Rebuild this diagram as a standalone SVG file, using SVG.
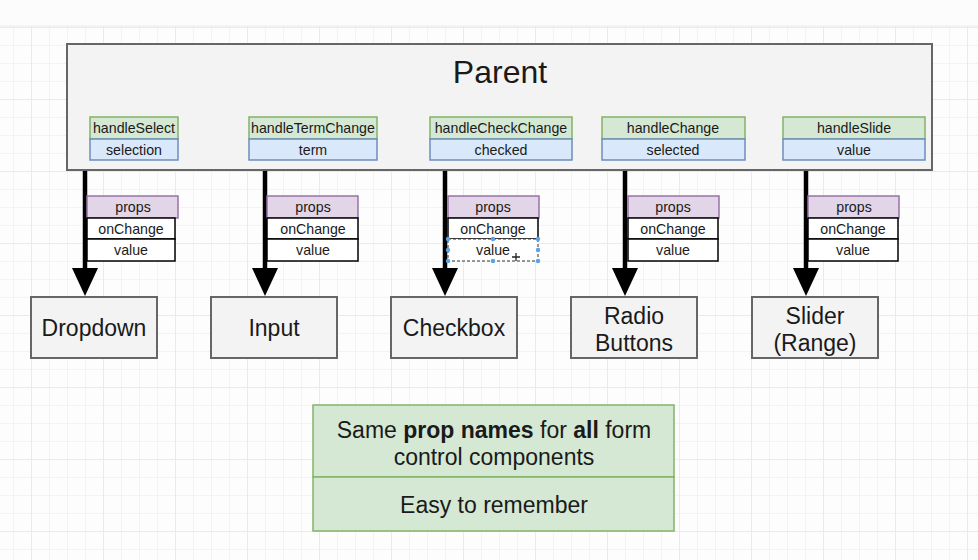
<svg xmlns="http://www.w3.org/2000/svg" width="978" height="560" viewBox="0 0 978 560">
<defs>
<pattern id="minor" x="13" y="9" width="18" height="18" patternUnits="userSpaceOnUse">
<path d="M0 0.5H18M0.5 0V18" fill="none" stroke="#f3f3f3" stroke-width="1"/>
</pattern>
<pattern id="major" x="31" y="27" width="72" height="72" patternUnits="userSpaceOnUse">
<path d="M0 0.5H72M0.5 0V72" fill="none" stroke="#eaeaea" stroke-width="1"/>
</pattern>
<style>
text{font-family:"Liberation Sans",Arial,sans-serif;fill:#1a1a1a;text-anchor:middle}
.frame{fill:#f3f3f3;stroke:#666;stroke-width:2}
.g{fill:#d5e8d4;stroke:#82b366;stroke-width:1.5}
.b{fill:#dae8fc;stroke:#6c8ebf;stroke-width:1.5}
.p{fill:#e1d5e7;stroke:#9673a6;stroke-width:1.5}
.w{fill:#fff;stroke:#000;stroke-width:1.5}
.s{font-size:14.2px}
.l{font-size:23px}
.conn{stroke:#000;stroke-width:4.5;fill:none}
.head{fill:#000}
.dot{fill:#5aa3e8}
</style>
</defs>
<rect width="978" height="560" fill="#fdfdfd"/>
<rect width="978" height="560" fill="url(#minor)"/>
<rect width="978" height="560" fill="url(#major)"/>
<rect x="0" y="0" width="978" height="26" fill="#fcfcfc"/>
<line x1="0" y1="26" x2="978" y2="26" stroke="#ececec"/>

<g id="connectors">
<line class="conn" x1="85" y1="170" x2="85" y2="272"/>
<path class="head" d="M72 268L98 268L85 296Z"/>
<line class="conn" x1="265" y1="170" x2="265" y2="272"/>
<path class="head" d="M252 268L278 268L265 296Z"/>
<line class="conn" x1="445" y1="170" x2="445" y2="272"/>
<path class="head" d="M432 268L458 268L445 296Z"/>
<line class="conn" x1="625" y1="170" x2="625" y2="272"/>
<path class="head" d="M612 268L638 268L625 296Z"/>
<line class="conn" x1="806" y1="170" x2="806" y2="272"/>
<path class="head" d="M793 268L819 268L806 296Z"/>
</g>

<g id="parent">
<rect class="frame" x="67" y="44" width="865" height="126"/>
<text x="500" y="83" style="font-size:32px">Parent</text>
<g id="state-select">
<rect class="g" x="90" y="117" width="88" height="22"/>
<rect class="b" x="90" y="139" width="88" height="21"/>
<text class="s" x="134" y="133">handleSelect</text>
<text class="s" x="134" y="155">selection</text>
</g>
<g id="state-term">
<rect class="g" x="249" y="117" width="128" height="22"/>
<rect class="b" x="249" y="139" width="128" height="21"/>
<text class="s" x="313" y="133">handleTermChange</text>
<text class="s" x="313" y="155">term</text>
</g>
<g id="state-check">
<rect class="g" x="430" y="117" width="142" height="22"/>
<rect class="b" x="430" y="139" width="142" height="21"/>
<text class="s" x="501" y="133">handleCheckChange</text>
<text class="s" x="501" y="155">checked</text>
</g>
<g id="state-change">
<rect class="g" x="602" y="117" width="143" height="22"/>
<rect class="b" x="602" y="139" width="143" height="21"/>
<text class="s" x="673" y="133">handleChange</text>
<text class="s" x="673" y="155">selected</text>
</g>
<g id="state-slide">
<rect class="g" x="783" y="117" width="142" height="22"/>
<rect class="b" x="783" y="139" width="142" height="21"/>
<text class="s" x="854" y="133">handleSlide</text>
<text class="s" x="854" y="155">value</text>
</g>
</g>

<g id="props1">
<rect class="p" x="87" y="196" width="91" height="22"/>
<rect class="w" x="87" y="218" width="88" height="21"/>
<rect class="w" x="87" y="239" width="88" height="22"/>
<text class="s" x="133" y="212">props</text>
<text class="s" x="131" y="234">onChange</text>
<text class="s" x="131" y="255">value</text>
</g>
<g id="props2">
<rect class="p" x="267" y="196" width="91" height="22"/>
<rect class="w" x="267" y="218" width="91" height="21"/>
<rect class="w" x="267" y="239" width="91" height="22"/>
<text class="s" x="313" y="212">props</text>
<text class="s" x="313" y="234">onChange</text>
<text class="s" x="313" y="255">value</text>
</g>
<g id="props3">
<rect class="p" x="448" y="196" width="91" height="22"/>
<rect class="w" x="448" y="218" width="90" height="21"/>
<rect x="448" y="239" width="90" height="22" fill="#fff" stroke="#333" stroke-width="1" stroke-dasharray="3 2"/>
<text class="s" x="493" y="212">props</text>
<text class="s" x="493" y="234">onChange</text>
<text class="s" x="493" y="255">value</text>
<circle class="dot" cx="448" cy="239" r="2.2"/>
<circle class="dot" cx="493" cy="239" r="2.2"/>
<circle class="dot" cx="538" cy="239" r="2.2"/>
<circle class="dot" cx="448" cy="250" r="2.2"/>
<circle class="dot" cx="538" cy="250" r="2.2"/>
<circle class="dot" cx="448" cy="261" r="2.2"/>
<circle class="dot" cx="493" cy="261" r="2.2"/>
<circle class="dot" cx="538" cy="261" r="2.2"/>
<path d="M516 253V261M512 257H520" stroke="#222" stroke-width="1.3"/>
</g>
<g id="props4">
<rect class="p" x="628" y="196" width="91" height="22"/>
<rect class="w" x="628" y="218" width="90" height="21"/>
<rect class="w" x="628" y="239" width="90" height="22"/>
<text class="s" x="673" y="212">props</text>
<text class="s" x="673" y="234">onChange</text>
<text class="s" x="673" y="255">value</text>
</g>
<g id="props5">
<rect class="p" x="808" y="196" width="91" height="22"/>
<rect class="w" x="808" y="218" width="90" height="21"/>
<rect class="w" x="808" y="239" width="90" height="22"/>
<text class="s" x="854" y="212">props</text>
<text class="s" x="853" y="234">onChange</text>
<text class="s" x="853" y="255">value</text>
</g>

<g id="dropdown">
<rect class="frame" x="31" y="297" width="126" height="61"/>
<text class="l" x="94" y="336">Dropdown</text>
</g>
<g id="input">
<rect class="frame" x="211" y="297" width="126" height="61"/>
<text class="l" x="274" y="336">Input</text>
</g>
<g id="checkbox">
<rect class="frame" x="391" y="297" width="126" height="61"/>
<text class="l" x="454" y="336">Checkbox</text>
</g>
<g id="radio">
<rect class="frame" x="571" y="297" width="126" height="61"/>
<text class="l" x="634" y="324">Radio</text>
<text class="l" x="634" y="351">Buttons</text>
</g>
<g id="slider">
<rect class="frame" x="752" y="297" width="126" height="61"/>
<text class="l" x="815" y="324">Slider</text>
<text class="l" x="815" y="351">(Range)</text>
</g>

<g id="note">
<rect class="g" x="313" y="405" width="361" height="72"/>
<rect class="g" x="313" y="477" width="361" height="54"/>
<text class="l" x="494" y="438">Same <tspan font-weight="bold">prop names</tspan> for <tspan font-weight="bold">all</tspan> form</text>
<text class="l" x="494" y="465">control components</text>
<text class="l" x="494" y="513">Easy to remember</text>
</g>
</svg>
